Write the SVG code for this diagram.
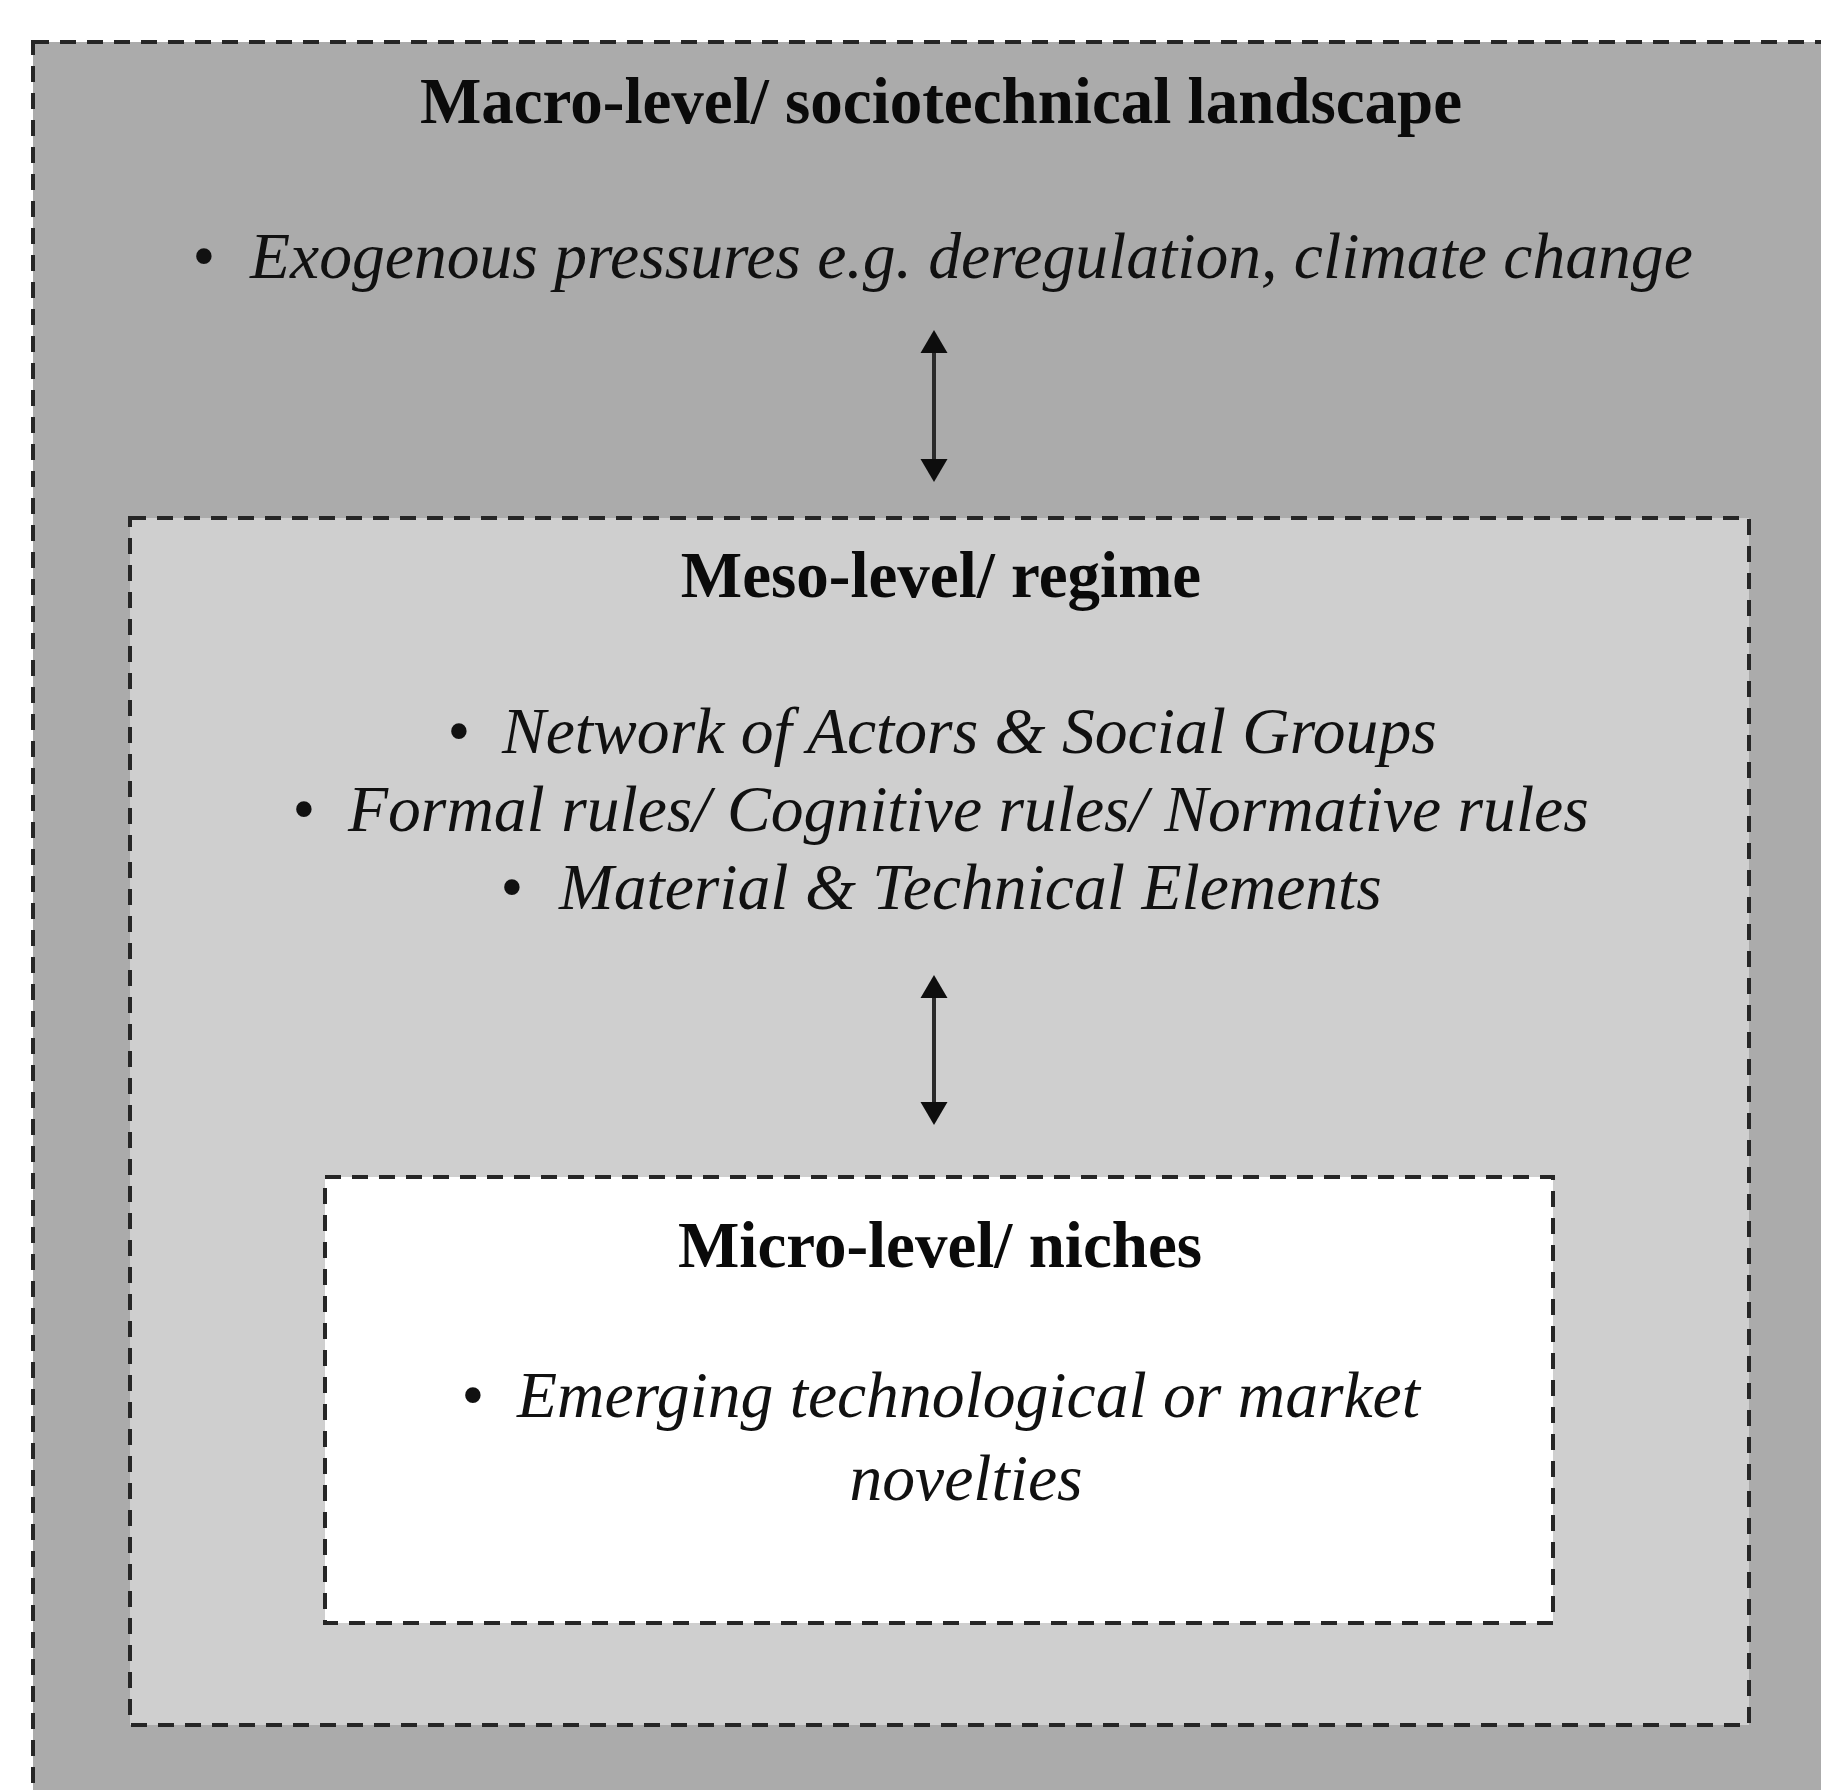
<svg xmlns="http://www.w3.org/2000/svg" width="1821" height="1790" viewBox="0 0 1821 1790">
<style>
.box{stroke:#262626;stroke-width:4;stroke-dasharray:16 11}
.title{font-family:"Liberation Serif","Times New Roman",serif;font-weight:bold;font-size:65px;fill:#0a0a0a;text-anchor:middle}
.item{font-family:"Liberation Serif","Times New Roman",serif;font-style:italic;font-size:65.6px;fill:#111}
.bul{font-family:"Liberation Serif","Times New Roman",serif;font-size:65px;fill:#111;text-anchor:middle}
.conn{stroke:#2a2a2a;stroke-width:4;fill:none}
</style>
<defs>
<marker id="ah" markerUnits="userSpaceOnUse" markerWidth="24" markerHeight="28" viewBox="0 -14 24 28" refX="0" refY="0" orient="auto-start-reverse" overflow="visible">
<path d="M0,-13.5 L23,0 L0,13.5 Z" fill="#0d0d0d"/>
</marker>
</defs>
<rect width="1821" height="1790" fill="#ffffff"/>
<g id="macro">
<rect class="box" x="33" y="42" width="1900" height="1900" fill="#ababab"/>
<text class="title" x="941" y="123">Macro-level/ sociotechnical landscape</text>
<text class="bul" x="204" y="278">•</text>
<text class="item" x="250" y="278">Exogenous pressures e.g. deregulation, climate change</text>
</g>
<g id="meso">
<rect class="box" x="130" y="518" width="1619" height="1207" fill="#cfcfcf"/>
<text class="title" x="941" y="597">Meso-level/ regime</text>
<text class="bul" x="459" y="753">•</text>
<text class="item" x="502" y="753">Network of Actors &amp; Social Groups</text>
<text class="bul" x="304" y="831">•</text>
<text class="item" x="348" y="831">Formal rules/ Cognitive rules/ Normative rules</text>
<text class="bul" x="512" y="909">•</text>
<text class="item" x="559" y="909">Material &amp; Technical Elements</text>
</g>
<g id="micro">
<rect class="box" x="325" y="1177" width="1228" height="446" fill="#ffffff"/>
<text class="title" x="940" y="1267">Micro-level/ niches</text>
<text class="bul" x="473" y="1417">•</text>
<text class="item" x="517" y="1417">Emerging technological or market</text>
<text class="item" x="966" y="1500" text-anchor="middle">novelties</text>
</g>
<g id="connectors">
<line class="conn" x1="934" y1="353" x2="934" y2="459" marker-start="url(#ah)" marker-end="url(#ah)"/>
<line class="conn" x1="934" y1="998" x2="934" y2="1102" marker-start="url(#ah)" marker-end="url(#ah)"/>
</g>
</svg>
